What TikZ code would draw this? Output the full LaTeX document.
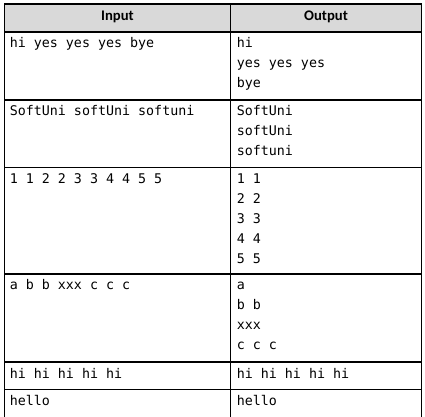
\documentclass[tikz,border=0pt]{standalone}
\usepackage{fontspec}
\setmainfont{Carlito}
\setmonofont{DejaVu Sans Mono}
\usepackage{tikz}
\usetikzlibrary{positioning}
\definecolor{headgray}{RGB}{217,217,217}
\definecolor{gridblack}{RGB}{0,0,0}
\newcommand{\celllines}[1]{\begin{tabular}[t]{@{}l@{}}#1\end{tabular}}

\begin{document}
\begin{tikzpicture}[
    x=0.75pt, y=-0.75pt,
    cell/.style={anchor=base west, inner sep=0pt, font=\fontsize{10}{15}\selectfont\ttfamily},
    head/.style={anchor=base, inner sep=0pt, font=\fontsize{11}{13}\selectfont\bfseries},
    rule/.style={gridblack, line width=0.8pt}
]
\useasboundingbox (0,0) rectangle (425,417);

% Header band
\fill[headgray] (4.3,4) rectangle (421.7,32);

% Grid lines
\foreach \y in {4,32,100,167.3,274,362,389.7}
    \draw[rule] (4.3,\y) -- (421.7,\y);
\draw[rule] (4.3,4) -- (4.3,417);
\draw[rule] (230.7,4) -- (230.7,417);
\draw[rule] (421.7,4) -- (421.7,417);

% Header
\node[head] (input) at (117.5,21) {Input};
\node[head] (output) at (326,21) {Output};

% Input column
\node[cell] (inhi) at (9.5,48) {hi yes yes yes bye};
\node[cell] (insoft) at (9.5,116) {SoftUni softUni softuni};
\node[cell] (innum) at (9.5,183.5) {1 1 2 2 3 3 4 4 5 5};
\node[cell] (inabc) at (9.5,290) {a b b xxx c c c};
\node[cell] (inrep) at (9.5,378) {hi hi hi hi hi};
\node[cell] (inhello) at (9.5,405.7) {hello};

% Output column
\node[cell] (outhi) at (236.5,48) {\celllines{hi\\yes yes yes\\bye}};
\node[cell] (outsoft) at (236.5,116) {\celllines{SoftUni\\softUni\\softuni}};
\node[cell] (outnum) at (236.5,183.5) {\celllines{1 1\\2 2\\3 3\\4 4\\5 5}};
\node[cell] (outabc) at (236.5,290) {\celllines{a\\b b\\xxx\\c c c}};
\node[cell] (outrep) at (236.5,378) {hi hi hi hi hi};
\node[cell] (outhello) at (236.5,405.7) {hello};

\end{tikzpicture}
\end{document}
